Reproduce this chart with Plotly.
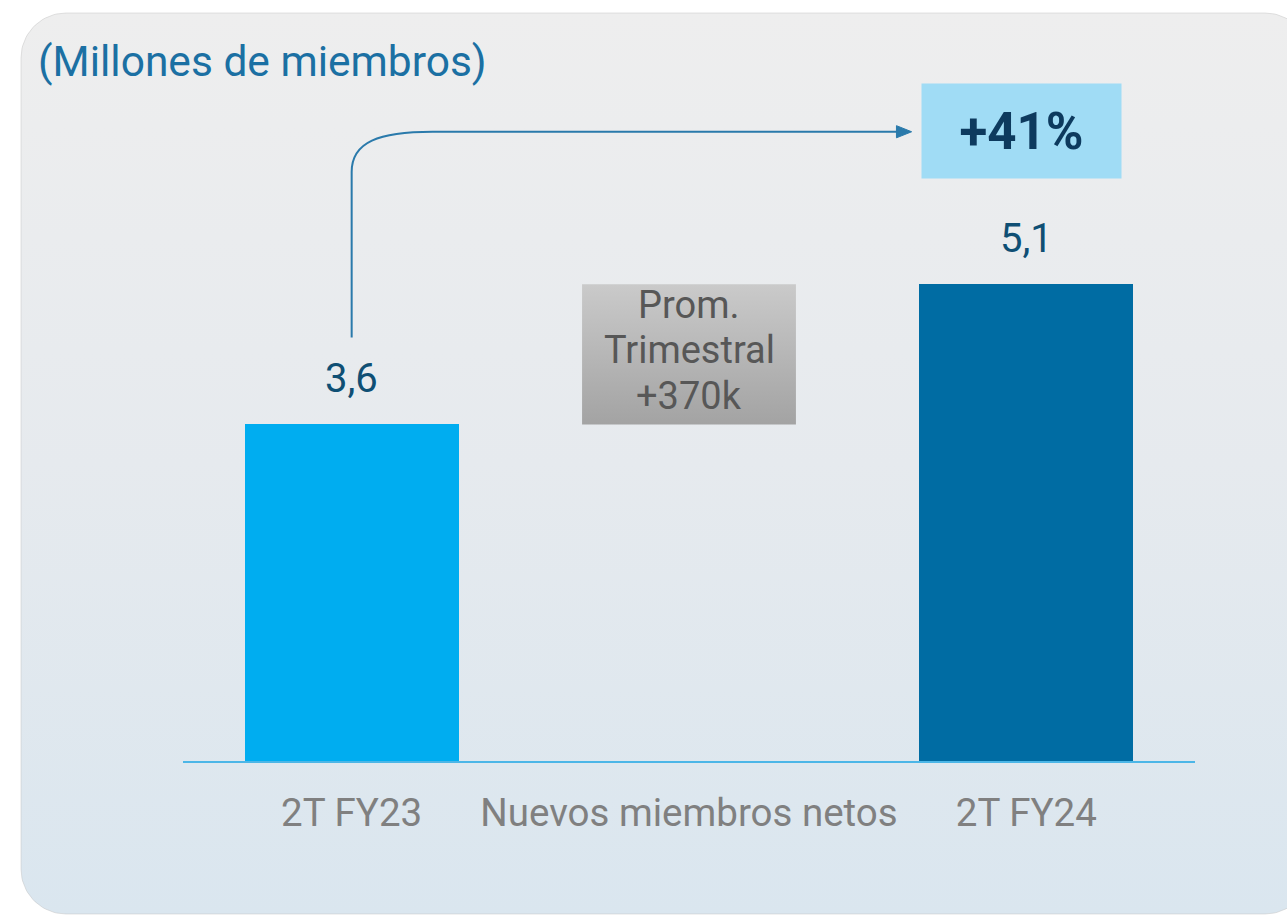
import numpy as np
import plotly.graph_objects as go

# ---------------- data ----------------
categories = ["2T FY23", "Nuevos miembros netos", "2T FY24"]
bar_values = [3.6, 5.1]           # millones de miembros (2T FY23, 2T FY24)
bridge_label = ["Prom.", "Trimestral", "+370k"]
growth_label = "+41%"
title_text = "(Millones de miembros)"

# ---------------- styling ----------------
W, H = 1287, 915
FONT = "Roboto"
BAR_COLORS = ["#00adf0", "#006ca3"]
BAR_W = 0.634
ARROW_C = "#2a7aab"

fig = go.Figure()

# --- background panel (pixel-space axes x/y) with rounded corners and vertical gradient
def rounded_rect(x0, y0, x1, y1, r, n=24):
    xs, ys = [], []
    corners = [(x1 - r, y1 - r, 0, 90), (x0 + r, y1 - r, 90, 180),
               (x0 + r, y0 + r, 180, 270), (x1 - r, y0 + r, 270, 360)]
    for cx, cy, a0, a1 in corners:
        t = np.radians(np.linspace(a0, a1, n))
        xs += list(cx + r * np.cos(t))
        ys += list(cy + r * np.sin(t))
    xs.append(xs[0]); ys.append(ys[0])
    return xs, ys

px, py = rounded_rect(21, H - 914, 1310, H - 13, 45)
fig.add_trace(go.Scatter(
    x=px, y=py, mode="lines", fill="toself",
    line=dict(color="rgba(190,190,190,0.45)", width=1),
    fillgradient=dict(type="vertical",
                      colorscale=[[0, "#dae6ef"], [0.5, "#e6eaee"], [1, "#eeeeee"]]),
    hoverinfo="skip", showlegend=False, xaxis="x", yaxis="y"))

# --- bridge box between the two values (middle category)
xb = [1 - BAR_W / 2, 1 + BAR_W / 2, 1 + BAR_W / 2, 1 - BAR_W / 2, 1 - BAR_W / 2]
yb = [bar_values[0], bar_values[0], bar_values[1], bar_values[1], bar_values[0]]
fig.add_trace(go.Scatter(
    x=xb, y=yb, mode="lines", fill="toself", line=dict(width=0, color="rgba(0,0,0,0)"),
    fillgradient=dict(type="vertical", colorscale=[[0, "#a3a3a3"], [1, "#cacaca"]]),
    hoverinfo="skip", showlegend=False, xaxis="x2", yaxis="y2"))

# --- bars
fig.add_trace(go.Bar(
    x=[0, 2], y=bar_values, width=BAR_W,
    marker=dict(color=BAR_COLORS, line=dict(width=0)),
    hoverinfo="skip", showlegend=False, xaxis="x2", yaxis="y2"))

# value labels
for xi, v in zip([0, 2], bar_values):
    fig.add_annotation(x=xi, y=v, xref="x2", yref="y2", text=f"{v:.1f}".replace(".", ","),
                       showarrow=False, yanchor="bottom", yshift=20,
                       font=dict(family=FONT, size=40, color="#0f4f74"))

# bridge text (one annotation per line for tighter line spacing)
mid = (bar_values[0] + bar_values[1]) / 2
for line, shift in zip(bridge_label, [49, 4, -42]):
    fig.add_annotation(x=1, y=mid, xref="x2", yref="y2", text=line, showarrow=False,
                       yshift=shift, font=dict(family=FONT, size=38, color="#575757"))

# growth arrow (from above first bar, curving right to the growth box)
arrow_path = ("M 0,4.53 L 0,6.30 C 0,6.62 0.08,6.73 0.24,6.73 L 1.62,6.73")
fig.add_shape(type="path", path=arrow_path, xref="x2", yref="y2",
              line=dict(color=ARROW_C, width=2), layer="above")
fig.add_shape(type="path", path="M 1.615,6.665 L 1.66,6.73 L 1.615,6.795 Z",
              xref="x2", yref="y2", fillcolor=ARROW_C, line=dict(color=ARROW_C, width=1),
              layer="above")

# growth box
fig.add_annotation(x=1.985, y=6.74, xref="x2", yref="y2", text=f"<b>{growth_label}</b>",
                   showarrow=False, width=199, height=94, borderpad=0,
                   bgcolor="#a0dcf5", font=dict(family=FONT, size=51, color="#0d3a5e"))

fig.update_layout(
    width=W, height=H, autosize=False,
    margin=dict(l=0, r=0, t=0, b=0),
    paper_bgcolor="white", plot_bgcolor="rgba(0,0,0,0)",
    title=dict(text=title_text, x=38 / W, xanchor="left", y=1 - 61 / H, yanchor="middle",
               font=dict(family=FONT, size=42.5, color="#1b70a3")),
    xaxis=dict(domain=[0, 1], range=[0, W], visible=False, fixedrange=True),
    yaxis=dict(domain=[0, 1], range=[0, H], visible=False, fixedrange=True),
    xaxis2=dict(domain=[183 / W, 1195 / W], range=[-0.5, 2.5], anchor="y2",
                tickvals=[0, 1, 2], ticktext=categories, showgrid=False, zeroline=False,
                showline=True, linecolor="#4cb6e7", linewidth=2, ticks="",
                ticklabelstandoff=17,
                tickfont=dict(family=FONT, size=38.5, color="#808080"), fixedrange=True),
    yaxis2=dict(domain=[(H - 761) / H, (H - 100) / H], range=[0, 661 / 93.5], anchor="x2",
                visible=False, showgrid=False, zeroline=False, fixedrange=True),
    bargap=0, hovermode=False,
)

fig.write_html("out.html", config={"displayModeBar": False},
               post_script="document.body.style.margin='0';document.body.style.overflow='hidden';")
